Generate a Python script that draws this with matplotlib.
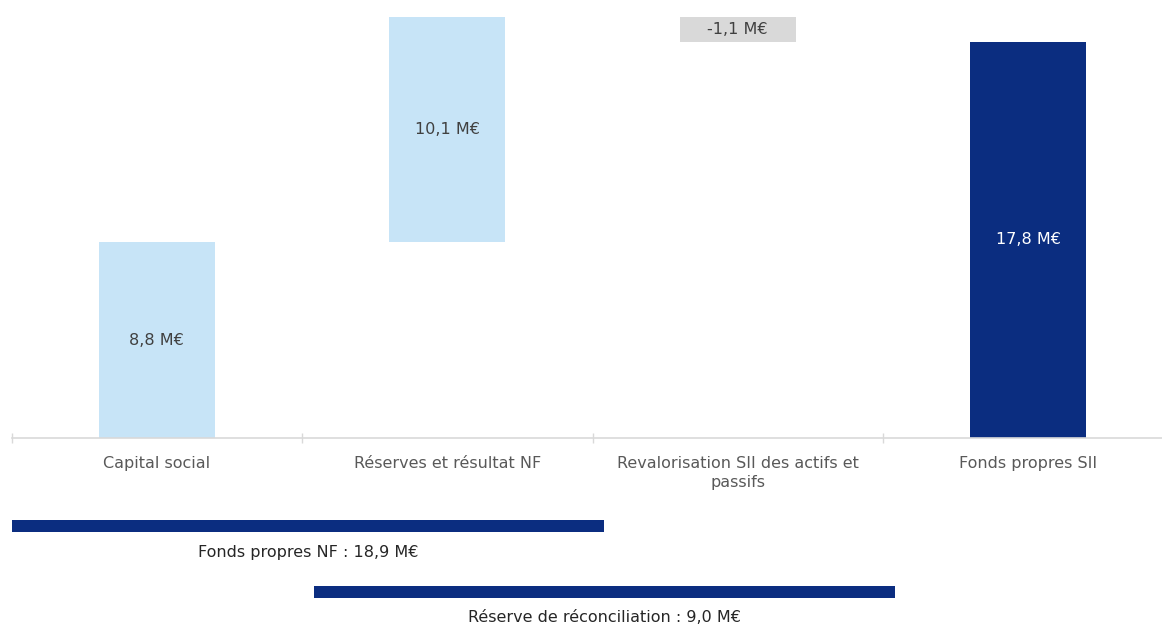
import matplotlib
matplotlib.use("Agg")
import matplotlib.pyplot as plt
from matplotlib.ticker import FixedLocator

plt.rcParams['font.family'] = ['DejaVu Sans']

# Waterfall data (M€)
categories = ["Capital social", "Réserves et résultat NF",
              "Revalorisation SII des actifs et\npassifs", "Fonds propres SII"]
deltas = [8.8, 10.1, -1.1, 17.8]
kinds = ["up", "up", "down", "total"]
value_labels = ["8,8 M€", "10,1 M€", "-1,1 M€", "17,8 M€"]

# Bracket bars under the axis: (start, end) in category units, label
span_ranges = [(-0.5, 1.54), (0.54, 2.54)]
span_labels = ["Fonds propres NF : 18,9 M€", "Réserve de réconciliation : 9,0 M€"]

colors = {"up": "#C7E4F7", "down": "#D9D9D9", "total": "#0B2D80"}
label_colors = {"up": "#404040", "down": "#404040", "total": "#FFFFFF"}
text_grey = "#595959"
fs = 11.5

W, H = 1162, 625
fig = plt.figure(figsize=(W / 100, H / 100), dpi=100)

# Main waterfall axes
left = 11.5 / W
ax_w = (4 * 290.5) / W
ax = fig.add_axes([left, (H - 438) / H, ax_w, 438 / H])

running = 0.0
for i, (d, k, lab) in enumerate(zip(deltas, kinds, value_labels)):
    if k == "total":
        bottom, height = 0.0, d
    elif d >= 0:
        bottom, height = running, d
        running += d
    else:
        bottom, height = running + d, -d
        running += d
    ax.bar(i, height, bottom=bottom, width=0.4, color=colors[k], linewidth=0)
    ax.text(i, bottom + height / 2, lab, ha="center", va="center",
            fontsize=fs, color=label_colors[k])

ax.set_xlim(-0.5, 3.5)
ax.set_ylim(0, 438 / 22.27)
for s in ["top", "right", "left"]:
    ax.spines[s].set_visible(False)
ax.spines["bottom"].set_color("#D9D9D9")
ax.spines["bottom"].set_linewidth(1.2)
ax.set_yticks([])
ax.set_xticks(range(len(categories)))
ax.set_xticklabels(categories, fontsize=fs, color=text_grey, linespacing=1.35)
ax.tick_params(axis="x", which="major", length=0, pad=13)
ax.xaxis.set_minor_locator(FixedLocator([-0.5, 0.5, 1.5, 2.5, 3.5]))
ax.tick_params(axis="x", which="minor", length=7, direction="inout",
               color="#D9D9D9", width=1)

# Bracket bars below the chart
ax2 = fig.add_axes([left, 0, ax_w, 180 / H])
ax2.set_xlim(-0.5, 3.5)
ax2.set_ylim(180, 0)
ax2.axis("off")
bar_rows = [81, 147]
label_rows = [107, 173]
for (a, b), lab, yb, yl in zip(span_ranges, span_labels, bar_rows, label_rows):
    ax2.barh(yb, b - a, left=a, height=12, color=colors["total"], linewidth=0)
    ax2.text((a + b) / 2, yl, lab, ha="center", va="center",
             fontsize=fs, color="#262626")

fig.savefig("out.png", dpi=100, facecolor="white")
